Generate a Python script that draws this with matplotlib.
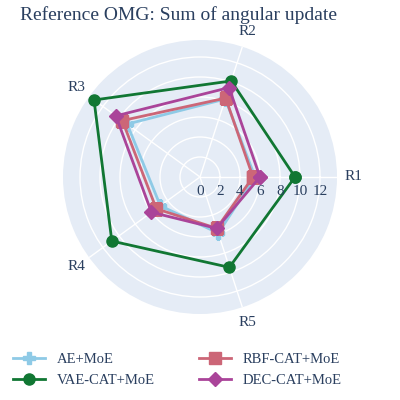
import numpy as np
import matplotlib.pyplot as plt

categories = ['R1', 'R2', 'R3', 'R4', 'R5']
ae = [5.5, 8.2, 9.0, 4.9, 5.9]
rbf = [5.3, 8.3, 9.6, 5.4, 5.4]
vae = [9.5, 10.1, 13.1, 10.9, 9.5]
dec = [6.0, 9.4, 10.4, 6.0, 5.4]
series = [('AE+MoE', ae, '#8ECAE6', 'P'), ('RBF-CAT+MoE', rbf, '#CC6677', 's'),
          ('VAE-CAT+MoE', vae, '#117733', 'o'), ('DEC-CAT+MoE', dec, '#AA4499', 'D')]
rticks = [0, 2, 4, 6, 8, 10, 12]

plt.rcParams['font.family'] = ['Liberation Serif', 'DejaVu Serif']
fig = plt.figure(figsize=(4, 4), dpi=100)
ax = fig.add_axes([0.1575, 0.2150, 0.685, 0.685], projection='polar')
ax.set_facecolor('#E5ECF6')
ang = np.deg2rad(np.arange(len(categories)) * 72)
angc = np.append(ang, ang[0])
handles = []
for name, v, c, m in series:
    vv = np.append(v, v[0])
    ms = 8 if m != 'D' else 7
    h, = ax.plot(angc, vv, color=c, lw=2, marker=m, ms=ms, label=name)
    handles.append(h)
ax.set_ylim(0, 13.7)
ax.set_yticks(rticks)
ax.set_yticklabels([])
for t in rticks:
    ax.annotate(str(t), xy=(0, t), xytext=(0, -6), textcoords='offset points',
                ha='center', va='top', fontsize=11, color='#2a3f5f')
ax.set_xticks(ang)
ax.set_xticklabels(categories, fontsize=11, color='#2a3f5f')
ax.tick_params(axis='x', pad=1)
ax.grid(color='white', lw=1)
ax.spines['polar'].set_visible(False)
fig.text(0.05, 0.962, 'Reference OMG: Sum of angular update', fontsize=14, color='#2a3f5f', va='center')
order = [handles[0], handles[2], handles[1], handles[3]]
fig.legend(order, [h.get_label() for h in order], ncol=2, loc='lower left',
           bbox_to_anchor=(0.0, 0.0), frameon=False, fontsize=10.5,
           labelcolor='#2a3f5f', columnspacing=3, handlelength=2.2)
fig.savefig('out.png', dpi=100)
